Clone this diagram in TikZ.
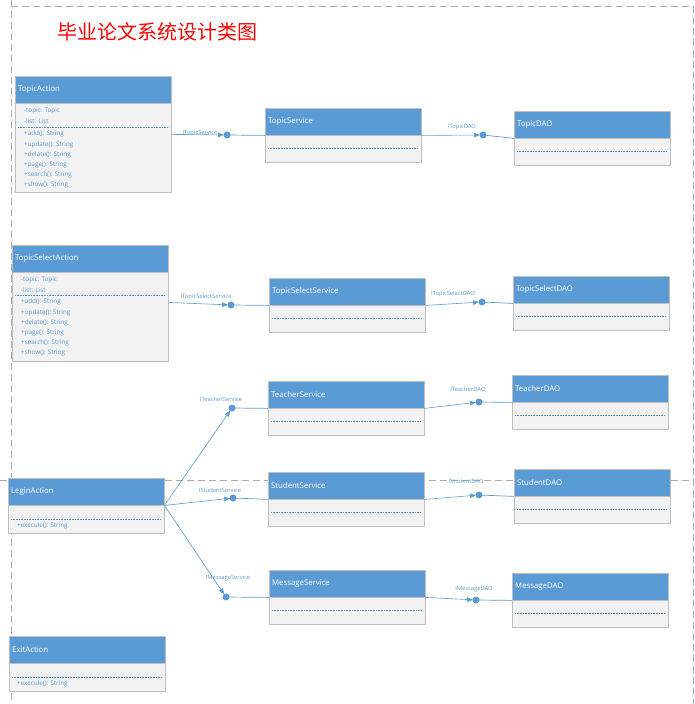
\documentclass[tikz,border=0pt]{standalone}
\usepackage{fontspec}
\setmainfont{Open Sans}
\newfontfamily\cjk{Noto Sans CJK SC}
\usetikzlibrary{arrows.meta,positioning}
\definecolor{ublue}{HTML}{5B9BD5}
\definecolor{ugray}{HTML}{F2F2F2}
\definecolor{uframe}{HTML}{BFBFBF}
\definecolor{pageline}{HTML}{ABABAB}
\tikzset{
	head/.style={draw=uframe, fill=ublue, text=white, anchor=north west,
		minimum height=27pt, text width=150pt, inner xsep=3pt, align=left,
		font=\fontsize{7.8}{9}\selectfont},
	body/.style={draw=uframe, fill=ugray, minimum width=156pt, inner sep=0pt},
	member/.style={text=ublue, anchor=north west, inner sep=0pt, align=left,
		font=\fontsize{6.3}{10.2}\selectfont},
	sep/.style={ublue, line width=0.5pt, dash pattern=on 1pt off 0.6pt},
	iface/.style={text=ublue, inner sep=1pt, font=\fontsize{5.8}{6}\selectfont},
	dep/.style={ublue, line width=0.6pt, shorten >=3pt,
		-{Triangle[length=6pt,width=4.5pt]}},
	wire/.style={ublue, line width=0.7pt},
	pagebreak/.style={pageline, line width=0.8pt, dash pattern=on 7pt off 4pt}
}
\begin{document}
\begin{tikzpicture}[x=1pt,y=-1pt]
	\useasboundingbox (0,0) rectangle (694,704);
	
	% page borders
	\draw[pagebreak] (11,0)--(11,704);
	\draw[pagebreak] (11,6)--(694,6);
	\draw[pagebreak] (693,6)--(693,704);
	\draw[pagebreak] (0,480)--(694,480);
	
	\node[text=red, font=\cjk\fontsize{20}{22}\selectfont] (title) at (157,32) {毕业论文系统设计类图};
	
	% interface balls
	\coordinate (bTS) at (227,135);
	\coordinate (bTD) at (483,135);
	\coordinate (bTSS) at (231,305);
	\coordinate (bTSD) at (482,302);
	\coordinate (bTeS) at (232,408);
	\coordinate (bTeD) at (479,402);
	\coordinate (bStS) at (233,498);
	\coordinate (bStD) at (479,495);
	\coordinate (bMsS) at (226,597);
	\coordinate (bMsD) at (476,600);
	
	% classes
	\node[head] (TAh) at (15,76) {TopicAction};
	\node[body, minimum height=89pt, below=0pt of TAh] (TAb) {};
	\node[member] (TAa) at (24,108) {-topic: Topic\\-list: List};
	\node[member] (TAm) at (24,131) {+add(): String\\+update(): String\\+delate(): String\\+page(): String\\+search(): String\\+show(): String};
	\draw[sep] ([xshift=3pt,yshift=-24pt]TAb.north west)--([xshift=-3pt,yshift=-24pt]TAb.north east);
	
	\node[head] (TSh) at (265,108) {TopicService};
	\node[body, minimum height=27pt, below=0pt of TSh] (TSb) {};
	\draw[sep] ([xshift=3pt,yshift=-13pt]TSb.north west)--([xshift=-3pt,yshift=-13pt]TSb.north east);
	
	\node[head] (TDh) at (514,111) {TopicDAO};
	\node[body, minimum height=27pt, below=0pt of TDh] (TDb) {};
	\draw[sep] ([xshift=3pt,yshift=-13pt]TDb.north west)--([xshift=-3pt,yshift=-13pt]TDb.north east);
	
	\node[head] (TSAh) at (12,245) {TopicSelectAction};
	\node[body, minimum height=89pt, below=0pt of TSAh] (TSAb) {};
	\node[member] (TSAa) at (21,277) {-topic: Topic\\-list: List};
	\node[member] (TSAm) at (21,299) {+add(): String\\+update(): String\\+delate(): String\\+page(): String\\+search(): String\\+show(): String};
	\draw[sep] ([xshift=3pt,yshift=-23pt]TSAb.north west)--([xshift=-3pt,yshift=-23pt]TSAb.north east);
	
	\node[head] (TSSh) at (269,278) {TopicSelectService};
	\node[body, minimum height=27pt, below=0pt of TSSh] (TSSb) {};
	\draw[sep] ([xshift=3pt,yshift=-13pt]TSSb.north west)--([xshift=-3pt,yshift=-13pt]TSSb.north east);
	
	\node[head] (TSDh) at (513,276) {TopicSelectDAO};
	\node[body, minimum height=27pt, below=0pt of TSDh] (TSDb) {};
	\draw[sep] ([xshift=3pt,yshift=-13pt]TSDb.north west)--([xshift=-3pt,yshift=-13pt]TSDb.north east);
	
	\node[head] (TeSh) at (268,381) {TeacherService};
	\node[body, minimum height=27pt, below=0pt of TeSh] (TeSb) {};
	\draw[sep] ([xshift=3pt,yshift=-13pt]TeSb.north west)--([xshift=-3pt,yshift=-13pt]TeSb.north east);
	
	\node[head] (TeDh) at (512,375) {TeacherDAO};
	\node[body, minimum height=27pt, below=0pt of TeDh] (TeDb) {};
	\draw[sep] ([xshift=3pt,yshift=-13pt]TeDb.north west)--([xshift=-3pt,yshift=-13pt]TeDb.north east);
	
	\node[head] (StSh) at (268,472) {StudentService};
	\node[body, minimum height=27pt, below=0pt of StSh] (StSb) {};
	\draw[sep] ([xshift=3pt,yshift=-13pt]StSb.north west)--([xshift=-3pt,yshift=-13pt]StSb.north east);
	
	\node[head] (StDh) at (514,469) {StudentDAO};
	\node[body, minimum height=27pt, below=0pt of StDh] (StDb) {};
	\draw[sep] ([xshift=3pt,yshift=-13pt]StDb.north west)--([xshift=-3pt,yshift=-13pt]StDb.north east);
	
	\node[head] (MsSh) at (269,570) {MessageService};
	\node[body, minimum height=27pt, below=0pt of MsSh] (MsSb) {};
	\draw[sep] ([xshift=3pt,yshift=-13pt]MsSb.north west)--([xshift=-3pt,yshift=-13pt]MsSb.north east);
	
	\node[head] (MsDh) at (512,573) {MessageDAO};
	\node[body, minimum height=27pt, below=0pt of MsDh] (MsDb) {};
	\draw[sep] ([xshift=3pt,yshift=-13pt]MsDb.north west)--([xshift=-3pt,yshift=-13pt]MsDb.north east);
	
	\node[head] (LAh) at (8,478) {LeginAction};
	\node[body, minimum height=28pt, below=0pt of LAh] (LAb) {};
	\draw[sep] ([xshift=3pt,yshift=-14pt]LAb.north west)--([xshift=-3pt,yshift=-14pt]LAb.north east);
	\node[member] (LAm) at (17,523) {+execule(): String};
	
	\node[head] (EAh) at (9,636) {ExitAction};
	\node[body, minimum height=28pt, below=0pt of EAh] (EAb) {};
	\draw[sep] ([xshift=3pt,yshift=-14pt]EAb.north west)--([xshift=-3pt,yshift=-14pt]EAb.north east);
	\node[member] (EAm) at (17,681) {+execule(): String};
	
	% dependencies
	\draw[dep] ([yshift=-31pt]TAh.south east)--(bTS);
	\draw[wire] (bTS)--(TSh.south west);
	\draw[dep] (TSh.south east)--(bTD);
	\draw[wire] (bTD)--(TDh.south west);
	
	\draw[dep] ([yshift=-30pt]TSAh.south east)--(bTSS);
	\draw[wire] (bTSS)--(TSSh.south west);
	\draw[dep] (TSSh.south east)--(bTSD);
	\draw[wire] (bTSD)--(TSDh.south west);
	
	\draw[dep] (LAh.south east)--(bTeS);
	\draw[dep] (LAh.south east)--(bStS);
	\draw[dep] (LAh.south east)--(bMsS);
	\draw[wire] (bTeS)--(TeSh.south west);
	\draw[wire] (bStS)--(StSh.south west);
	\draw[wire] (bMsS)--(MsSh.south west);
	
	\draw[dep] (TeSh.south east)--(bTeD);
	\draw[wire] (bTeD)--(TeDh.south west);
	\draw[dep] (StSh.south east)--(bStD);
	\draw[wire] (bStD)--(StDh.south west);
	\draw[dep] (MsSh.south east)--(bMsD);
	\draw[wire] (bMsD)--(MsDh.south west);
	
	\foreach \p in {(bTS),(bTD),(bTSS),(bTSD),(bTeS),(bTeD),(bStS),(bStD),(bMsS),(bMsD)}
		\fill[ublue] \p circle (3.5pt);
	
	% interface names
	\node[iface] (lTS) at (200,133) {ITopicService};
	\node[iface] (lTD) at (462,127) {ITopicDAO};
	\node[iface] (lTSS) at (206,297) {ITopicSelectService};
	\node[iface] (lTSD) at (453,294) {ITopicSelectDAO};
	\node[iface] (lTeS) at (221,399) {ITeacherService};
	\node[iface] (lTeD) at (468,389) {ITeacherDAO};
	\node[iface] (lStS) at (220,490) {IStudentService};
	\node[iface] (lStD) at (466,481) {IStudentDAO};
	\node[iface] (lMsS) at (228,578) {IMessageService};
	\node[iface] (lMsD) at (474,589) {IMessageDAO};
\end{tikzpicture}
\end{document}
